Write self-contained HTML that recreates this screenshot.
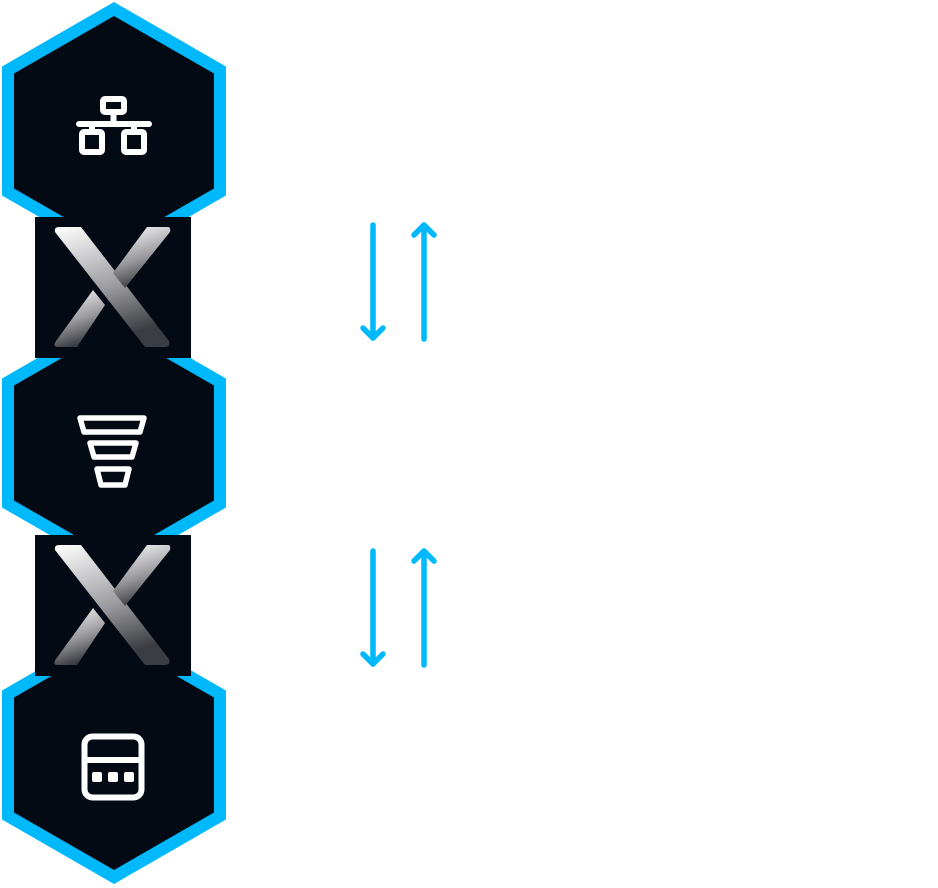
<!DOCTYPE html>
<html><head><style>html,body{margin:0;padding:0;background:#fff;}svg{display:block}</style></head>
<body>
<svg width="938" height="888" viewBox="0 0 938 888" xmlns="http://www.w3.org/2000/svg">
<defs>
<linearGradient id="xg" x1="0" y1="0" x2="0.3" y2="1">
<stop offset="0" stop-color="#ffffff"/><stop offset="0.6" stop-color="#9a9a9e"/><stop offset="1" stop-color="#3c3d42"/>
</linearGradient>
<g id="hex">
<polygon points="0,-129 112,-64.5 112,64.5 0,129 -112,64.5 -112,-64.5" fill="#00b8fc"/>
<polygon points="0,-115 100,-57.5 100,57.5 0,115 -100,57.5 -100,-57.5" fill="#030a14"/>
</g>
<g id="xbox">
<rect x="0" y="0" width="156" height="141" fill="#030a14"/>
<path d="M24,10 L46,10 L134,124 Q136,130 130,130 L110,130 L20,15 Q19,10 24,10 Z" fill="url(#xg)"/>
<path d="M133,10 L112,10 L78,56 L90,71 L135,15 Q136,10 133,10 Z" fill="url(#xg)"/>
<path d="M58,73 L70,88 L42,130 L23,130 Q17,130 21,124 Z" fill="url(#xg)"/>
</g>
</defs>
<use href="#hex" x="114" y="131"/>
<use href="#hex" x="114" y="443"/>
<use href="#hex" x="114" y="755"/>
<use href="#xbox" x="35" y="217"/>
<use href="#xbox" x="35" y="535"/>
<g fill="none" stroke="#fff" stroke-width="6" stroke-linejoin="round" stroke-linecap="round">
<rect x="103" y="99" width="21" height="13" rx="2"/>
<line x1="113.5" y1="112" x2="113.5" y2="124"/>
<line x1="79" y1="124" x2="149" y2="124"/>
<rect x="82" y="132" width="20" height="20" rx="2"/>
<rect x="124" y="132" width="20" height="20" rx="2"/>
<line x1="92" y1="124" x2="92" y2="132"/>
<line x1="134" y1="124" x2="134" y2="132"/>
</g>
<g fill="none" stroke="#fff" stroke-width="5.5" stroke-linejoin="round">
<polygon points="80,418 144,418 140,432 84,432"/>
<polygon points="90,443 136,443 132,457 94,457"/>
<polygon points="97,469 129,469 125,485 101,485"/>
</g>
<g fill="none" stroke="#fff" stroke-width="6">
<rect x="84.5" y="736.5" width="57" height="61" rx="8"/>
<line x1="84" y1="760" x2="142" y2="760"/>
</g>
<g fill="#fff">
<rect x="92" y="772" width="10" height="10" rx="2"/>
<rect x="108" y="772" width="10" height="10" rx="2"/>
<rect x="124" y="772" width="10" height="10" rx="2"/>
</g>
<g fill="none" stroke="#00b8fc" stroke-width="5.5" stroke-linecap="round" stroke-linejoin="round">
<line x1="373" y1="225" x2="373" y2="338"/><polyline points="363,328 373,338 383,328"/>
<line x1="424" y1="225" x2="424" y2="339"/><polyline points="414,235 424,225 434,235"/>
<line x1="373" y1="551" x2="373" y2="664"/><polyline points="363,654 373,664 383,654"/>
<line x1="424" y1="551" x2="424" y2="665"/><polyline points="414,561 424,551 434,561"/>
</g>
</svg>
</body></html>
